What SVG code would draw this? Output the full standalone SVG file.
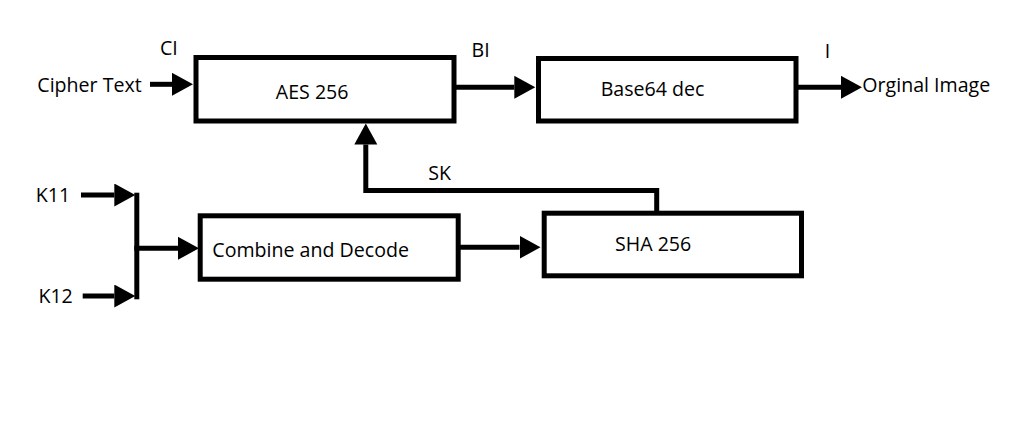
<svg xmlns="http://www.w3.org/2000/svg" width="1028" height="436" viewBox="0 0 1028 436">
<defs>
<marker id="ah" markerWidth="22" markerHeight="24" refX="0" refY="11.5" orient="auto" markerUnits="userSpaceOnUse">
<path d="M0,0 L21,11.5 L0,23 z" fill="#000"/>
</marker>
<style>
.box{fill:#fff;stroke:#000;stroke-width:5}
.lbl{font-family:"Open Sans","Noto Sans",sans-serif;font-size:19.6px;fill:#000}
.c{fill:none;stroke:#000;stroke-width:5;stroke-linejoin:miter;marker-end:url(#ah)}
.w{fill:none;stroke:#000;stroke-width:5}
</style>
</defs>
<rect width="1028" height="436" fill="#fff"/>
<g id="connectors">
<line class="c" x1="150" y1="84.3" x2="172" y2="84.3"/>
<line class="c" x1="456" y1="87.3" x2="514.3" y2="87.3"/>
<line class="c" x1="798" y1="87.3" x2="841" y2="87.3"/>
<path class="c" d="M656.7,211 V190.5 H365.8 V144.5"/>
<line class="c" x1="81" y1="195" x2="114.3" y2="195"/>
<line class="c" x1="82.7" y1="296" x2="114.3" y2="296"/>
<line class="w" x1="136.8" y1="192.7" x2="136.8" y2="299.3"/>
<line class="c" x1="134.3" y1="248.3" x2="178" y2="248.3"/>
<line class="c" x1="458" y1="247.3" x2="519.5" y2="247.3"/>
<text class="lbl" x="160" y="55">CI</text>
<text class="lbl" x="471.5" y="56.7">BI</text>
<text class="lbl" x="824.8" y="58.3">I</text>
<text class="lbl" x="428.3" y="180">SK</text>
</g>
<g id="cipher-text"><text class="lbl" x="37.3" y="92">Cipher Text</text></g>
<g id="aes"><rect class="box" x="196" y="57.5" width="258" height="63.5"/><text class="lbl" x="275.8" y="98.5">AES 256</text></g>
<g id="base64"><rect class="box" x="538.5" y="58.5" width="257.5" height="62.5"/><text class="lbl" x="600.7" y="96">Base64 dec</text></g>
<g id="orginal-image"><text class="lbl" x="862.3" y="91.7">Orginal Image</text></g>
<g id="k11"><text class="lbl" x="35.8" y="201.7">K11</text></g>
<g id="k12"><text class="lbl" x="38.4" y="303.3">K12</text></g>
<g id="combine"><rect class="box" x="200.2" y="215.8" width="258" height="63.4"/><text class="lbl" x="212.3" y="256.7">Combine and Decode</text></g>
<g id="sha"><rect class="box" x="544.2" y="213.2" width="257.3" height="62.6"/><text class="lbl" x="615" y="250.7">SHA 256</text></g>
</svg>
